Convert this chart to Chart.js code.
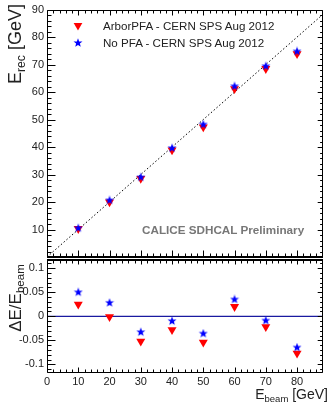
<!DOCTYPE html>
<html><head><meta charset="utf-8">
<script src="https://cdn.jsdelivr.net/npm/chart.js@4/dist/chart.umd.min.js"></script>
<style>
html,body{margin:0;padding:0;background:#fff;}
#wrap{position:relative;width:330px;height:406px;overflow:hidden;font-family:"Liberation Sans",Arial,sans-serif;color:#222;}
canvas{position:absolute;left:0;}
.t{position:absolute;white-space:nowrap;line-height:1;}
sub{font-size:0.68em;vertical-align:-0.3em;line-height:0;}
</style></head><body>
<div id="wrap">
<canvas id="cTop" width="330" height="270" style="top:0"></canvas>
<canvas id="cBot" width="330" height="156" style="top:250px"></canvas>
<div class="t" id="yTopTitle" style="left:15px;top:44px;font-size:18px;transform:translate(-50%,-50%) rotate(-90deg)">E<sub>rec</sub> [GeV]</div>
<div class="t" id="yBotTitle" style="left:15px;top:298px;font-size:17px;transform:translate(-50%,-50%) rotate(-90deg)">&Delta;E/E<sub>beam</sub></div>
<div class="t" id="xTitle" style="right:2px;top:387px;font-size:14px;">E<sub>beam</sub> [GeV]</div>
<div class="t" id="leg1" style="left:103px;top:20px;font-size:11.6px;"></div>
<div class="t" id="leg2" style="left:103px;top:37px;font-size:11.6px;"></div>
<div class="t" id="calice" style="left:142px;top:224px;font-size:11.7px;font-weight:bold;color:#777;">CALICE SDHCAL Preliminary</div>
</div>
<script>
const beamEnergy=[10,20,30,40,50,60,70,80];
const arborErec=[10.3,20.0,28.5,38.9,47.3,61.2,68.5,73.9];
const noPfaErec=[10.5,20.6,29.0,39.6,48.2,62.1,69.4,74.8];
const arborDelta=[0.025,-0.001,-0.052,-0.028,-0.054,0.020,-0.022,-0.077];
const noPfaDelta=[0.050,0.028,-0.033,-0.010,-0.036,0.035,-0.009,-0.065];
const xTickLabels=[0,10,20,30,40,50,60,70,80];
const yTopTickLabels=[10,20,30,40,50,60,70,80,90];
const yBotTickLabels=[-0.1,-0.05,0,0.05,0.1];
const seriesNames=['ArborPFA - CERN SPS Aug 2012','No PFA - CERN SPS Aug 2012'];

document.getElementById('leg1').textContent=seriesNames[0];
document.getElementById('leg2').textContent=seriesNames[1];

const FONT={family:'"Liberation Sans", Arial, sans-serif',size:11};
const RED='#ff0000', BLUE='#0000ff';
const XMAX=88.3;

function makeStar(size,color){
  const c=document.createElement('canvas');c.width=size;c.height=size;
  const g=c.getContext('2d');const cx=size/2,cy=size/2,R=size/2-0.3,r=R*0.42;
  g.beginPath();
  for(let i=0;i<10;i++){const a=-Math.PI/2+i*Math.PI/5;const rr=i%2?r:R;
    const px=cx+rr*Math.cos(a),py=cy+rr*Math.sin(a);i?g.lineTo(px,py):g.moveTo(px,py);}
  g.closePath();g.fillStyle=color;g.fill();return c;
}
const star=makeStar(10,BLUE);

function drawTri(ctx,x,y,r){
  ctx.beginPath();
  ctx.moveTo(x-r*0.87,y-r*0.5);ctx.lineTo(x+r*0.87,y-r*0.5);ctx.lineTo(x,y+r);ctx.closePath();
  ctx.fillStyle=RED;ctx.fill();
}

function frameTicks(cfg){
  return {id:'frameTicks',afterDraw(chart){
    const {ctx,chartArea:a,scales:{x,y}}=chart;
    ctx.save();ctx.strokeStyle='#000';ctx.lineWidth=1;
    const L=Math.round(a.left)+0.5,R=Math.round(a.right)-0.5,T=Math.round(a.top)+0.5,B=Math.round(a.bottom)-0.5;
    ctx.beginPath();
    for(let v=cfg.yMinor0; v<=y.max+1e-9; v+=cfg.yMinor){
      const vv=Math.round(v*1e6)/1e6;
      const isMaj=Math.abs(vv/cfg.yMajor-Math.round(vv/cfg.yMajor))<1e-6;
      const py=Math.round(y.getPixelForValue(vv))+0.5;
      if(py<a.top-0.5||py>a.bottom+0.5)continue;
      const len=isMaj?cfg.yMajLen:cfg.yMinLen;
      ctx.moveTo(L,py);ctx.lineTo(L+len,py);
      ctx.moveTo(R,py);ctx.lineTo(R-len*0.6,py);
    }
    for(let v=0; v<=x.max+1e-9; v+=2){
      const isMaj=v%10===0;
      const px=Math.round(x.getPixelForValue(v))+0.5;
      if(px>a.right)continue;
      if(cfg.topTicks){const l=isMaj?cfg.xTopMaj:cfg.xTopMin;ctx.moveTo(px,T);ctx.lineTo(px,T+cfg.topDir*l);}
      if(cfg.botTicks){const l=isMaj?cfg.xBotMaj:cfg.xBotMin;ctx.moveTo(px,B);ctx.lineTo(px,B+cfg.botDir*l);}
    }
    ctx.stroke();
    ctx.beginPath();ctx.rect(L,T,R-L,B-T);ctx.stroke();
    if(cfg.thickBottom){ctx.lineWidth=2;ctx.beginPath();ctx.moveTo(a.left,Math.round(a.bottom));ctx.lineTo(a.right,Math.round(a.bottom));ctx.stroke();}
    if(cfg.thickTop){ctx.lineWidth=2;ctx.beginPath();ctx.moveTo(a.left,Math.round(a.top));ctx.lineTo(a.right,Math.round(a.top));ctx.stroke();}
    if(cfg.legend){
      drawTri(ctx,78,25.5,5);
      ctx.drawImage(star,73,38);
    }
    ctx.restore();
  }};
}

const commonX={type:'linear',min:0,max:XMAX};

new Chart(document.getElementById('cTop'),{
  type:'scatter',
  data:{datasets:[
    {label:seriesNames[1],data:beamEnergy.map((e,i)=>({x:e,y:noPfaErec[i]})),pointStyle:star,pointRadius:5,order:0},
    {label:seriesNames[0],data:beamEnergy.map((e,i)=>({x:e,y:arborErec[i]})),pointStyle:'triangle',rotation:180,pointRadius:5.2,backgroundColor:RED,borderColor:RED,borderWidth:0,order:1},
    {type:'line',label:'diag',data:[{x:0,y:0},{x:90,y:90}],borderColor:'#000',borderWidth:1,borderDash:[1.5,2.2],pointRadius:0,order:2}
  ]},
  options:{responsive:false,animation:false,events:[],devicePixelRatio:1,
    layout:{padding:{left:0,right:7,top:9,bottom:13}},
    plugins:{legend:{display:false},tooltip:{enabled:false}},
    scales:{
      x:{...commonX,ticks:{display:false},grid:{display:false,drawTicks:false},border:{display:false},afterFit:s=>{s.height=0;}},
      y:{type:'linear',min:0,max:90,afterBuildTicks:s=>{s.ticks=yTopTickLabels.map(v=>({value:v}));},
        ticks:{font:FONT,color:'#222',padding:3},grid:{display:false,drawTicks:false},border:{display:false},afterFit:s=>{s.width=47;}}
    }
  },
  plugins:[frameTicks({yMinor0:0,yMinor:2,yMajor:10,yMajLen:8,yMinLen:4,topTicks:true,topDir:1,xTopMaj:5,xTopMin:3,botTicks:true,botDir:-1,xBotMaj:6,xBotMin:3,thickBottom:true,legend:true})]
});

new Chart(document.getElementById('cBot'),{
  type:'scatter',
  data:{datasets:[
    {label:seriesNames[1],data:beamEnergy.map((e,i)=>({x:e,y:noPfaDelta[i]})),pointStyle:star,pointRadius:5,order:0},
    {label:seriesNames[0],data:beamEnergy.map((e,i)=>({x:e,y:arborDelta[i]})),pointStyle:'triangle',rotation:180,pointRadius:5.2,backgroundColor:RED,borderColor:RED,borderWidth:0,order:1},
    {type:'line',label:'zero',data:[{x:0,y:0},{x:XMAX,y:0}],borderColor:'#1a1aa0',borderWidth:1.2,pointRadius:0,order:2}
  ]},
  options:{responsive:false,animation:false,events:[],devicePixelRatio:1,
    layout:{padding:{left:0,right:7,top:7,bottom:0}},
    plugins:{legend:{display:false},tooltip:{enabled:false}},
    scales:{
      x:{...commonX,afterBuildTicks:s=>{s.ticks=xTickLabels.map(v=>({value:v}));},
        ticks:{font:FONT,color:'#222',padding:2,maxRotation:0,autoSkip:false},grid:{display:false,drawTicks:false},border:{display:false},afterFit:s=>{s.height=33;}},
      y:{type:'linear',min:-0.118,max:0.118,afterBuildTicks:s=>{s.ticks=yBotTickLabels.map(v=>({value:v}));},
        ticks:{font:FONT,color:'#222',padding:3,callback:v=>String(v)},grid:{display:false,drawTicks:false},border:{display:false},afterFit:s=>{s.width=47;}}
    }
  },
  plugins:[frameTicks({yMinor0:-0.11,yMinor:0.01,yMajor:0.05,yMajLen:8,yMinLen:4,topTicks:true,topDir:1,xTopMaj:4,xTopMin:3,botTicks:true,botDir:-1,xBotMaj:5,xBotMin:3,thickTop:true})]
});
</script>
</body></html>
